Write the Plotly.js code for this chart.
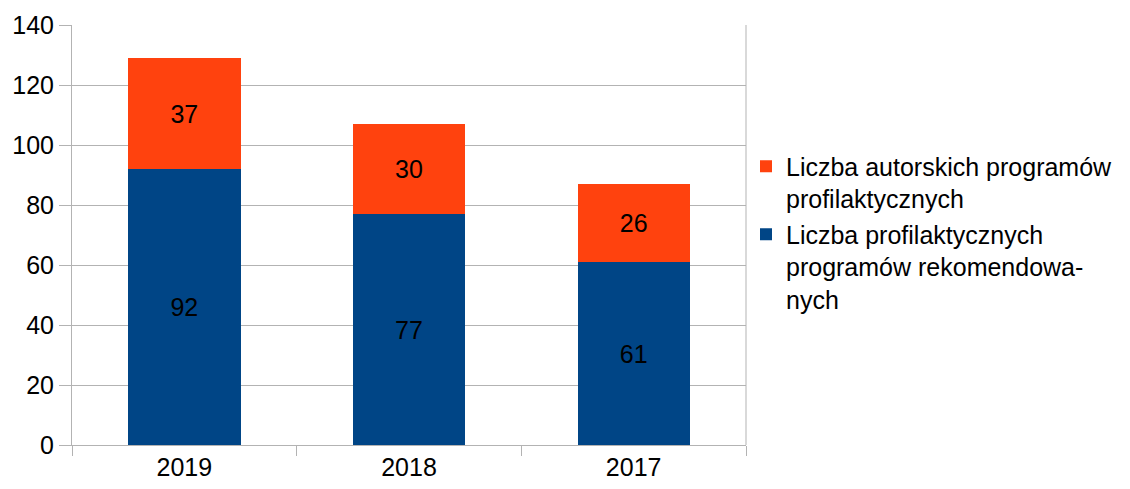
<!DOCTYPE html>
<html>
<head>
<meta charset="utf-8">
<script src="https://cdn.plot.ly/plotly-3.0.1.min.js"></script>
<style>html,body{margin:0;padding:0;background:#fff;}#chart{width:1130px;height:489px;}</style>
</head>
<body>
<div id="chart"></div>
<script>
const years = ["2019", "2018", "2017"];
const recommended = [92, 77, 61];
const authored = [37, 30, 26];
const seriesNames = [
  "Liczba profilaktycznych<br>programów rekomendowa-<br>nych",
  "Liczba autorskich programów<br>profilaktycznych"
];
const yTicks = [0, 20, 40, 60, 80, 100, 120, 140];

const font = {family: "Liberation Sans, Arial, sans-serif", size: 25, color: "#000"};

const traces = [
  {type: "bar", x: years, y: recommended, name: seriesNames[0],
   marker: {color: "#004586"}, text: recommended.map(String), textposition: "inside",
   insidetextanchor: "middle", textfont: font, hoverinfo: "none"},
  {type: "bar", x: years, y: authored, name: seriesNames[1],
   marker: {color: "#ff420e"}, text: authored.map(String), textposition: "inside",
   insidetextanchor: "middle", textfont: font, hoverinfo: "none"}
];

const layout = {
  width: 1130, height: 489,
  margin: {l: 72, r: 382, t: 25, b: 44, pad: 0},
  barmode: "stack", bargap: 0.5,
  paper_bgcolor: "#fff", plot_bgcolor: "#fff",
  font: font,
  showlegend: true,
  legend: {x: 1.0, xanchor: "left", y: 0.718, yanchor: "top", traceorder: "reversed",
           valign: "top", font: font, bgcolor: "rgba(0,0,0,0)", tracegroupgap: 6},
  xaxis: {type: "category", showgrid: false, showline: true, linecolor: "#b3b3b3", linewidth: 1,
          ticks: "outside", tickson: "boundaries", ticklen: 10, tickcolor: "#b3b3b3",
          tickfont: font, zeroline: false},
  yaxis: {range: [0, 140], tickvals: yTicks, ticktext: yTicks.map(String),
          showgrid: true, gridcolor: "#b3b3b3", gridwidth: 1,
          showline: true, linecolor: "#b3b3b3", ticks: "outside", ticklen: 12, tickcolor: "#b3b3b3",
          tickfont: font, zeroline: false},
  shapes: [{type: "line", xref: "paper", yref: "paper", x0: 1, x1: 1, y0: 0, y1: 1,
            line: {color: "#b3b3b3", width: 1}}]
};

Plotly.newPlot("chart", traces, layout, {staticPlot: true, displayModeBar: false});
</script>
</body>
</html>
